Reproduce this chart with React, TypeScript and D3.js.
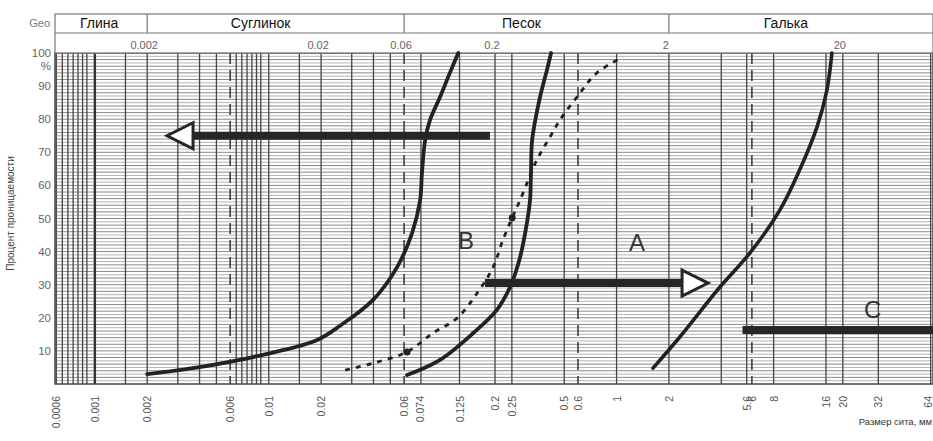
import React from "react";
import * as d3 from "d3";

// header zones (soil classes) and their boundaries in mm
const zoneNames = ["Глина", "Суглинок", "Песок", "Галька"];
const zoneBounds = [0.002, 0.06, 2];
const headerTicks = ["0.002", "0.02", "0.06", "0.2", "2", "20"];

// sieve sizes printed under the chart
const bottomTicks = [
  "0.0006", "0.001", "0.002", "0.006", "0.01", "0.02", "0.06", "0.074",
  "0.125", "0.2", "0.25", "0.5", "0.6", "1", "2", "5.6", "6", "8",
  "16", "20", "32", "64",
];

// vertical grid
const gridSolid = [
  0.0006, 0.00065, 0.0007, 0.00075, 0.0008, 0.00085, 0.0009,
  0.0015, 0.002, 0.003, 0.004, 0.005,
  0.0065, 0.007, 0.0075, 0.008, 0.0085, 0.009, 0.01,
  0.015, 0.02, 0.03, 0.04, 0.05, 0.075, 0.125, 0.2, 0.25, 0.5,
  1, 2, 4, 5.6, 8, 16, 20, 32, 64,
];
const gridThick = [0.001];
const gridDashed = [0.006, 0.06, 0.6, 6];

const yTicks = [10, 20, 30, 40, 50, 60, 70, 80, 90];

// curves: [size mm, percent passing]
const curveFine: [number, number][] = [
  [0.002, 3], [0.004, 5.1], [0.0098, 9.1], [0.019, 13.3], [0.0257, 17.6],
  [0.0398, 25.4], [0.0547, 35.3], [0.0667, 45.6], [0.0742, 55.6],
  [0.076, 63.7], [0.0793, 73.7], [0.0846, 79.8], [0.0966, 86.7],
  [0.11, 94], [0.123, 100],
];
const curveSand: [number, number][] = [
  [0.0624, 2.7], [0.0966, 7.3], [0.15, 15.4], [0.205, 22.4], [0.244, 29.3],
  [0.279, 38.4], [0.305, 48.6], [0.318, 55.6], [0.322, 63.7], [0.327, 73.7],
  [0.363, 86.7], [0.398, 94.9], [0.42, 100],
];
const curveDashed: [number, number][] = [
  [0.0275, 4.2], [0.0398, 6.3], [0.0624, 9.7], [0.088, 15.4], [0.121, 19.9],
  [0.158, 27.5], [0.195, 35.3], [0.222, 43.5], [0.251, 50.2], [0.279, 55.6],
  [0.348, 67.7], [0.414, 74.6], [0.473, 79.8], [0.592, 86.7], [0.771, 94],
  [1.09, 98.8],
];
const dashedMarkers: [number, number][] = [[0.0624, 9.7], [0.251, 50.2]];
const curveGravel: [number, number][] = [
  [1.62, 4.8], [2.31, 14.2], [3.93, 29.3], [5.85, 39.6], [8.7, 52.6],
  [11.3, 64.7], [14.2, 77.6], [16.2, 88.8], [17.3, 100],
];

// arrows: bar from -> to (mm) at a percent level
const arrowLeft = { from: 0.187, to: 0.00367, pct: 75 };
const arrowRight = { from: 0.175, to: 2.38, pct: 30.5 };
const barC = { from: 5.3, to: 66, pct: 16.3 };

const letters = [
  { text: "B", size: 0.136, pct: 43.5 },
  { text: "A", size: 1.31, pct: 42.6 },
  { text: "C", size: 29.7, pct: 22.4 },
];

const W = 933;
const H = 441;
const FONT = "'Liberation Sans', Arial, sans-serif";

export default function App() {
  const x = d3.scaleLog().domain([0.00059, 66]).range([55, 933]);
  const y = d3.scaleLinear().domain([0, 100]).range([384, 53]);
  const left = x.range()[0];
  const right = x.range()[1];
  const top = y(100);
  const bottom = y(0);
  const headTop = 14;
  const headMid = 33;

  const line = d3
    .line<[number, number]>()
    .x((d) => x(d[0]))
    .y((d) => y(d[1]))
    .curve(d3.curveCatmullRom.alpha(0.5));

  const hGrid = d3.range(1, 100, 1);
  const zoneEdges = [x.domain()[0], ...zoneBounds, x.domain()[1]];

  const arrowHead = (xb: number, yc: number, dir: number) => {
    const len = 26;
    const half = 13;
    return `${xb},${yc - half} ${xb + dir * len},${yc} ${xb},${yc + half}`;
  };

  return (
    <svg
      width={W}
      height={H}
      style={{ position: "absolute", left: 0, top: 0, background: "#fff" }}
      fontFamily={FONT}
    >
      {/* horizontal grid */}
      {hGrid.map((v) => (
        <line
          key={"h" + v}
          x1={left}
          x2={right}
          y1={y(v)}
          y2={y(v)}
          stroke={v % 2 === 0 ? "#8a8a8a" : "#b4b4b4"}
          strokeWidth={1}
        />
      ))}
      {/* vertical grid */}
      {gridSolid.map((v) => (
        <line key={"vs" + v} x1={x(v)} x2={x(v)} y1={top} y2={bottom} stroke="#444" strokeWidth={1.3} />
      ))}
      {gridThick.map((v) => (
        <line key={"vt" + v} x1={x(v)} x2={x(v)} y1={top} y2={bottom} stroke="#333" strokeWidth={2.4} />
      ))}
      {gridDashed.map((v) => (
        <line key={"vd" + v} x1={x(v)} x2={x(v)} y1={top} y2={bottom} stroke="#333" strokeWidth={1.5} strokeDasharray="11,6" />
      ))}
      {/* plot frame */}
      <rect x={left} y={top} width={right - left} height={bottom - top} fill="none" stroke="#444" strokeWidth={1.5} />

      {/* header */}
      <rect x={left} y={headTop} width={right - left} height={top - headTop} fill="#fff" stroke="#777" strokeWidth={1.2} />
      <line x1={left} x2={right} y1={headMid} y2={headMid} stroke="#777" strokeWidth={1.2} />
      {zoneBounds.map((v) => (
        <line key={"zb" + v} x1={x(v)} x2={x(v)} y1={headTop} y2={headMid} stroke="#777" strokeWidth={1.2} />
      ))}
      {zoneNames.map((n, i) => {
        const mid = (x(zoneEdges[i]) + x(zoneEdges[i + 1])) / 2 - (i === 0 ? 2 : 15);
        return (
          <text key={n} x={mid} y={headMid - 5} textAnchor="middle" fontSize={14} fill="#111">
            {n}
          </text>
        );
      })}
      {headerTicks.map((t) => (
        <text key={"ht" + t} x={x(+t) - 3} y={top - 4} textAnchor="middle" fontSize={11} fill="#666">
          {t}
        </text>
      ))}
      <text x={50} y={headMid - 6} textAnchor="end" fontSize={11} fill="#777">
        Geo
      </text>

      {/* y axis labels */}
      <text x={51} y={top + 4} textAnchor="end" fontSize={11.5} fill="#666">100</text>
      <text x={51} y={top + 17} textAnchor="end" fontSize={11.5} fill="#666">%</text>
      {yTicks.map((v) => (
        <text key={"yt" + v} x={51} y={y(v) + 4} textAnchor="end" fontSize={11.5} fill="#666">
          {v}
        </text>
      ))}
      <text
        transform={`translate(14, ${(top + bottom) / 2 - 5}) rotate(-90)`}
        textAnchor="middle"
        fontSize={10}
        fill="#444"
      >
        Процент проницаемости
      </text>

      {/* bottom sieve labels */}
      {bottomTicks.map((t) => (
        <text
          key={"bt" + t}
          transform={`translate(${Math.min(x(+t) + 4, right - 1)}, ${bottom + 12}) rotate(-90)`}
          textAnchor="end"
          fontSize={10.5}
          fill="#555"
        >
          {t}
        </text>
      ))}
      <text x={right - 1} y={425} textAnchor="end" fontSize={9.5} fill="#333">
        Размер сита, мм
      </text>

      {/* curves */}
      <path d={line(curveFine) ?? ""} fill="none" stroke="#222" strokeWidth={3.8} strokeLinecap="round" />
      <path d={line(curveSand) ?? ""} fill="none" stroke="#222" strokeWidth={3.8} strokeLinecap="round" />
      <path d={line(curveGravel) ?? ""} fill="none" stroke="#222" strokeWidth={3.6} strokeLinecap="round" />
      <path d={line(curveDashed) ?? ""} fill="none" stroke="#222" strokeWidth={2.8} strokeDasharray="5,6" />
      {dashedMarkers.map((d, i) => (
        <circle key={"m" + i} cx={x(d[0])} cy={y(d[1])} r={3.5} fill="#222" />
      ))}

      {/* arrows and bar C */}
      <line x1={x(arrowLeft.from)} x2={x(arrowLeft.to)} y1={y(arrowLeft.pct)} y2={y(arrowLeft.pct)} stroke="#262626" strokeWidth={8} />
      <polygon points={arrowHead(x(arrowLeft.to), y(arrowLeft.pct), -1)} fill="#fff" stroke="#262626" strokeWidth={3} strokeLinejoin="miter" />
      <line x1={x(arrowRight.from)} x2={x(arrowRight.to)} y1={y(arrowRight.pct)} y2={y(arrowRight.pct)} stroke="#262626" strokeWidth={8} />
      <polygon points={arrowHead(x(arrowRight.to), y(arrowRight.pct), 1)} fill="#fff" stroke="#262626" strokeWidth={3} strokeLinejoin="miter" />
      <line x1={x(barC.from)} x2={x(barC.to)} y1={y(barC.pct)} y2={y(barC.pct)} stroke="#262626" strokeWidth={8} />

      {letters.map((l) => (
        <text key={l.text} x={x(l.size)} y={y(l.pct)} textAnchor="middle" dominantBaseline="central" fontSize={24} fill="#333">
          {l.text}
        </text>
      ))}
    </svg>
  );
}
